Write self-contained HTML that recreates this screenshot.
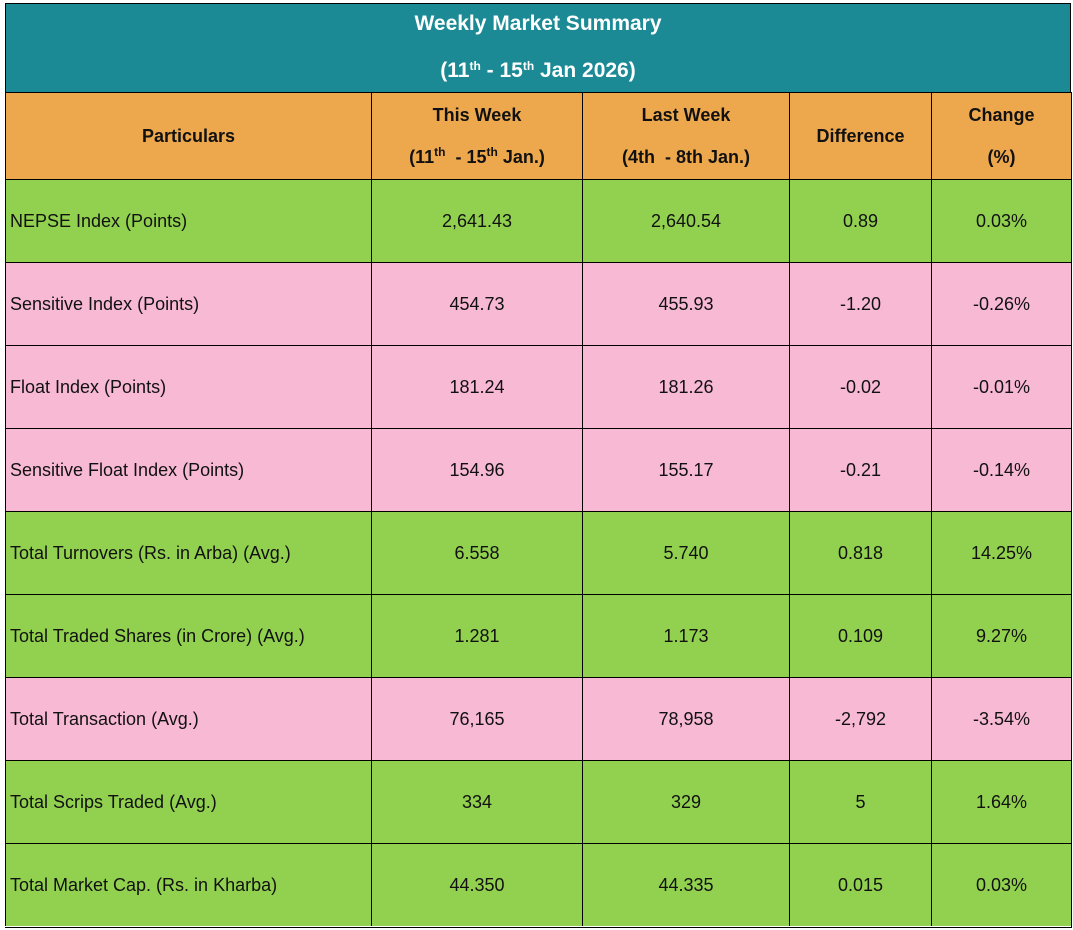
<!DOCTYPE html>
<html><head><style>
body{margin:0;width:1073px;height:930px;background:#fff;font-family:"Liberation Sans",sans-serif;position:relative;overflow:hidden}
.c{position:absolute;box-sizing:border-box;display:flex;align-items:center;justify-content:center;text-align:center;font-size:18px;color:#111;border-left:1px solid #000;border-top:1px solid #000}
.l{justify-content:flex-start;padding-left:4px}
.t{position:absolute;left:5px;top:3px;width:1066px;height:90px;background:#1b8a94;border:1px solid #000;box-sizing:border-box;color:#fff;font-weight:bold;font-size:21px;text-align:center}
.h{font-weight:bold;line-height:42px;flex-direction:column}
.f{position:absolute;left:5px;top:92px;width:1067px;height:836px;border-right:1px solid #000;border-bottom:1px solid #000;box-sizing:border-box;z-index:5}
sup{font-size:12px;vertical-align:7px;line-height:0}
</style></head><body>
<div class="t"><div style="position:absolute;top:8px;width:100%">Weekly Market Summary</div><div style="position:absolute;top:55px;width:100%">(11<sup>th</sup> - 15<sup>th</sup> Jan 2026)</div></div>
<div id="g"></div>
<div class="f"></div>
<script>
const X=[5,371,582,789,931,1071];
const G='#92d14f',P='#f8b9d4';
const rows=[
[G,'NEPSE Index (Points)','2,641.43','2,640.54','0.89','0.03%'],
[P,'Sensitive Index (Points)','454.73','455.93','-1.20','-0.26%'],
[P,'Float Index (Points)','181.24','181.26','-0.02','-0.01%'],
[P,'Sensitive Float Index (Points)','154.96','155.17','-0.21','-0.14%'],
[G,'Total Turnovers (Rs. in Arba) (Avg.)','6.558','5.740','0.818','14.25%'],
[G,'Total Traded Shares (in Crore) (Avg.)','1.281','1.173','0.109','9.27%'],
[P,'Total Transaction (Avg.)','76,165','78,958','-2,792','-3.54%'],
[G,'Total Scrips Traded (Avg.)','334','329','5','1.64%'],
[G,'Total Market Cap. (Rs. in Kharba)','44.350','44.335','0.015','0.03%']];
let h='';
const hd=['Particulars','<div>This Week</div><div>(11<sup>th</sup> &nbsp;- 15<sup>th</sup> Jan.)</div>','<div>Last Week</div><div>(4th &nbsp;- 8th Jan.)</div>','Difference','<div>Change</div><div>(%)</div>'];
for(let i=0;i<5;i++){h+=`<div class="c h" style="left:${X[i]}px;top:92px;width:${X[i+1]-X[i]}px;height:87px;background:#eda84e">${hd[i]}</div>`}
rows.forEach((r,j)=>{const y=179+j*83;for(let i=0;i<5;i++){h+=`<div class="c${i==0?' l':''}" style="left:${X[i]}px;top:${y}px;width:${X[i+1]-X[i]}px;height:83px;background:${r[0]}">${r[i+1]}</div>`}});
document.getElementById('g').innerHTML=h;
</script>
</body></html>
